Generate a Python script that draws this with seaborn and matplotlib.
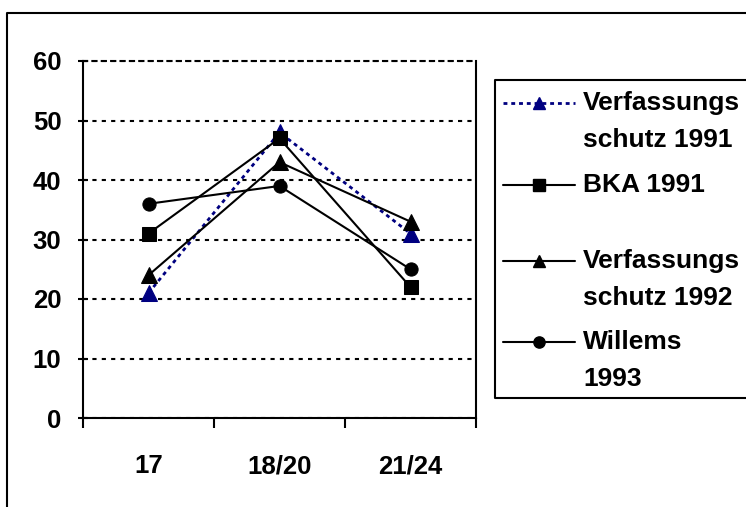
import matplotlib
matplotlib.use("Agg")
import matplotlib.pyplot as plt
import seaborn as sns
from matplotlib.lines import Line2D
from matplotlib.ticker import FixedLocator

sns.set_style("white")
plt.rcParams["font.family"] = ["Liberation Sans", "DejaVu Sans"]
plt.rcParams["font.weight"] = "bold"

# ---------------------------------------------------------
# Data
# ---------------------------------------------------------
age_groups = ["17", "18/20", "21/24"]
vs_1991 = [21, 48, 31]
bka_1991 = [31, 47, 22]
vs_1992 = [24, 43, 33]
willems_1993 = [36, 39, 25]
y_ticks = [0, 10, 20, 30, 40, 50, 60]

W, H = 746, 507
fig = plt.figure(figsize=(W / 100, H / 100), dpi=100)
fig.patch.set_facecolor("white")

# plot area in pixels: left 83, right 476, top 61, bottom 418
ax = fig.add_axes([83 / W, (H - 418) / H, (476 - 83) / W, (418 - 61) / H])

navy = "#000080"
dotted = (0, (1.4, 1.4))
sns.lineplot(x=age_groups, y=vs_1991, ax=ax, color=navy, linestyle=dotted,
             linewidth=2, marker="^", markersize=11, markeredgecolor=navy, sort=False)
sns.lineplot(x=age_groups, y=bka_1991, ax=ax, color="black", linewidth=1.5,
             marker="s", markersize=9.5, markeredgecolor="black", sort=False)
sns.lineplot(x=age_groups, y=vs_1992, ax=ax, color="black", linewidth=1.5,
             marker="^", markersize=11, markeredgecolor="black", sort=False)
sns.lineplot(x=age_groups, y=willems_1993, ax=ax, color="black", linewidth=1.5,
             marker="o", markersize=9.5, markeredgecolor="black", sort=False)

ax.set_xlim(-0.5, 2.5)
ax.set_ylim(0, 60)
ax.set_yticks(y_ticks)
ax.set_xticks(range(len(age_groups)))
ax.set_xticklabels(age_groups)
ax.xaxis.set_minor_locator(FixedLocator([-0.5, 0.5, 1.5, 2.5]))
ax.tick_params(axis="x", which="major", bottom=True, length=0, pad=26,
               labelsize=18.5, labelcolor="black")
ax.tick_params(axis="x", which="minor", bottom=True, length=7, width=1.5,
               direction="out", color="black")
ax.tick_params(axis="y", left=True, length=7, width=1.5, direction="inout", pad=12,
               labelsize=18.5, color="black", labelcolor="black")
ax.set_xlabel("")
ax.set_ylabel("")

ax.yaxis.grid(True, color="black", linestyle=(0, (2, 2.5)), linewidth=1.5)
ax.xaxis.grid(False)
ax.set_axisbelow(True)
ax.spines["top"].set_linestyle((0, (2, 2.5)))
for side in ["left", "bottom", "right", "top"]:
    ax.spines[side].set_color("black")
    ax.spines[side].set_linewidth(1.5)

# ---------------------------------------------------------
# Overlay in pixel coords: outer frame + legend
# ---------------------------------------------------------
ov = fig.add_axes([0, 0, 1, 1], zorder=5)
ov.set_xlim(0, W)
ov.set_ylim(H, 0)
ov.axis("off")
ov.patch.set_alpha(0)

ov.add_line(Line2D([7, 7, W + 10], [H + 10, 13, 13], color="black", linewidth=1.5))
ov.add_line(Line2D([W + 10, 495, 495, W + 10], [80, 80, 398, 398], color="black", linewidth=1.5))

entries = [
    (103, navy, dotted, 2, "^", 11, ["Verfassungs", "schutz 1991"]),
    (185, "black", "-", 1.5, "s", 9.5, ["BKA 1991"]),
    (261, "black", "-", 1.5, "^", 11, ["Verfassungs", "schutz 1992"]),
    (342, "black", "-", 1.5, "o", 9.5, ["Willems", "1993"]),
]
for y, col, ls, lw, mk, ms, lines in entries:
    ov.add_line(Line2D([503, 575], [y, y], color=col, linestyle=ls, linewidth=lw))
    ov.add_line(Line2D([539], [y], color=col, marker=mk, markersize=ms * 0.85,
                       markeredgecolor=col, linestyle="none"))
    for i, txt in enumerate(lines):
        ov.text(583, y + i * 37, txt, ha="left", va="center", fontsize=19,
                fontweight="bold", color="black")

fig.savefig("out.png", dpi=100)
